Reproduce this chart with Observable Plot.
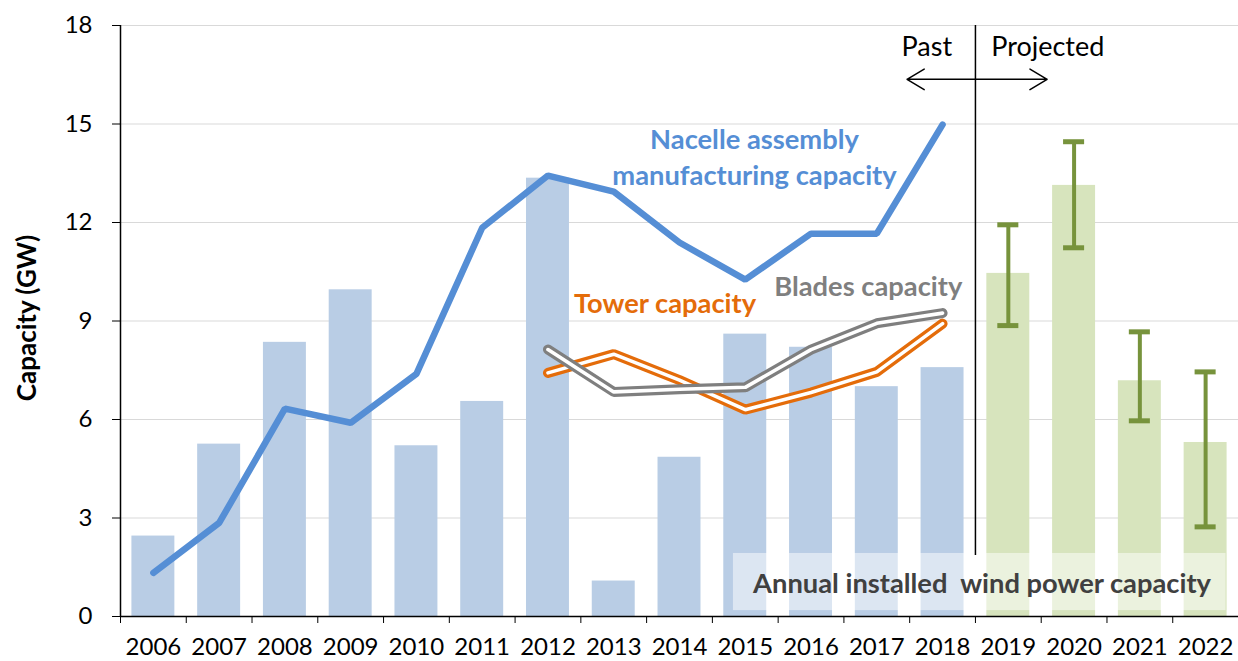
<!DOCTYPE html>
<html>
<head>
<meta charset="utf-8">
<script src="https://cdn.jsdelivr.net/npm/d3@7"></script>
<script src="https://cdn.jsdelivr.net/npm/@observablehq/plot@0.6"></script>
<style>
  html, body { margin: 0; padding: 0; background: #fff; }
  #chart svg { font-family: Lato, "Open Sans", sans-serif; }
</style>
</head>
<body>
<div id="chart"></div>
<script>
// ---- Data ----
const pastYears = [2006, 2007, 2008, 2009, 2010, 2011, 2012, 2013, 2014, 2015, 2016, 2017, 2018];
const installedPast = [2.45, 5.25, 8.35, 9.95, 5.2, 6.55, 13.35, 1.08, 4.85, 8.6, 8.2, 7.0, 7.58];
const projectedYears = [2019, 2020, 2021, 2022];
const installedProjected = [10.45, 13.13, 7.18, 5.3];
const projectedLow = [8.86, 11.23, 5.96, 2.73];
const projectedHigh = [11.93, 14.46, 8.67, 7.45];
const nacelleCapacity = [1.33, 2.85, 6.33, 5.9, 7.39, 11.84, 13.43, 12.94, 11.39, 10.26, 11.66, 11.66, 14.98];
const componentYears = [2012, 2013, 2014, 2015, 2016, 2017, 2018];
const towerCapacity = [7.42, 7.99, 7.2, 6.3, 6.82, 7.45, 8.92];
const bladesCapacity = [8.13, 6.84, 6.92, 6.98, 8.13, 8.93, 9.24];
const allYears = [...pastYears, ...projectedYears];
const yTicks = [0, 3, 6, 9, 12, 15, 18];

// annotation texts and their anchor points in data units
const seriesLabels = [
  {text: "Nacelle assembly", x: 2015.14, y: 14.5, color: "#558ED5"},
  {text: "manufacturing capacity", x: 2015.14, y: 13.4, color: "#558ED5"},
  {text: "Tower capacity", x: 2013.78, y: 9.5, color: "#E46C0A"},
  {text: "Blades capacity", x: 2016.87, y: 10.03, color: "#7F7F7F"}
];
const periodLabels = [
  {text: "Past", x: 2017.76, y: 17.33},
  {text: "Projected", x: 2019.6, y: 17.33}
];
const divider = {x: 2018.5, y1: 1.86, y2: 18};
const arrows = [
  {x1: 2018.5, x2: 2017.46, y: 16.36},
  {x1: 2018.5, x2: 2019.59, y: 16.36}
];
const boxNote = {text: "Annual installed  wind power capacity", x1: 2014.82, x2: 2022.31, y1: 0.18, y2: 1.92, tx: 2018.6, ty: 0.97};
const yTitle = "Capacity (GW)";

// ---- Tables built from arrays ----
const pastBars = pastYears.map((year, i) => ({year, value: installedPast[i]}));
const projBars = projectedYears.map((year, i) => ({year, value: installedProjected[i], lo: projectedLow[i], hi: projectedHigh[i]}));
const nacelle = pastYears.map((year, i) => ({year, value: nacelleCapacity[i]}));
const tower = componentYears.map((year, i) => ({year, value: towerCapacity[i]}));
const blades = componentYears.map((year, i) => ({year, value: bladesCapacity[i]}));
const boundaries = [allYears[0] - 0.5, ...allYears.map(y => y + 0.5)];

const BAR_INSET = 11.4;   // px each side of a category
const CAP = 0.16;         // error-bar cap half width in years
const FONT = 24;
const LABEL_FONT = 27.3;

const chart = Plot.plot({
  width: 1238,
  height: 661,
  marginLeft: 120,
  marginRight: 0,
  marginTop: 25,
  marginBottom: 45,
  style: {fontFamily: "Lato, 'Open Sans', sans-serif", fontSize: FONT + "px", color: "#000"},
  x: {type: "linear", domain: [allYears[0] - 0.5, allYears[allYears.length - 1] + 0.5]},
  y: {domain: [0, 18]},
  marks: [
    Plot.gridY(yTicks, {stroke: "#D9D9D9", strokeOpacity: 1, strokeWidth: 1.2}),
    Plot.rectY(pastBars, {x1: d => d.year - 0.5, x2: d => d.year + 0.5, y: "value", fill: "#B9CDE5", insetLeft: BAR_INSET, insetRight: BAR_INSET}),
    Plot.rectY(projBars, {x1: d => d.year - 0.5, x2: d => d.year + 0.5, y: "value", fill: "#D7E4BD", insetLeft: BAR_INSET, insetRight: BAR_INSET}),
    Plot.rect([boxNote], {x1: "x1", x2: "x2", y1: "y1", y2: "y2", fill: "#fff", fillOpacity: 0.5}),
    Plot.text([boxNote], {x: "tx", y: "ty", text: "text", fill: "#404040", fontWeight: "bold", fontSize: LABEL_FONT}),
    // error bars
    Plot.ruleX(projBars, {x: "year", y1: "lo", y2: "hi", stroke: "#77933C", strokeWidth: 4}),
    Plot.ruleY(projBars, {y: "hi", x1: d => d.year - CAP, x2: d => d.year + CAP, stroke: "#77933C", strokeWidth: 5}),
    Plot.ruleY(projBars, {y: "lo", x1: d => d.year - CAP, x2: d => d.year + CAP, stroke: "#77933C", strokeWidth: 5}),
    // nacelle line
    Plot.line(nacelle, {x: "year", y: "value", stroke: "#558ED5", strokeWidth: 6.5, strokeLinecap: "round", strokeLinejoin: "miter"}),
    // tower double line
    Plot.line(tower, {x: "year", y: "value", stroke: "#E46C0A", strokeWidth: 10, strokeLinecap: "round", strokeLinejoin: "miter"}),
    Plot.line(tower, {x: "year", y: "value", stroke: "#fff", strokeWidth: 3.6, strokeLinecap: "round", strokeLinejoin: "miter"}),
    // blades double line
    Plot.line(blades, {x: "year", y: "value", stroke: "#7F7F7F", strokeWidth: 10, strokeLinecap: "round", strokeLinejoin: "miter"}),
    Plot.line(blades, {x: "year", y: "value", stroke: "#fff", strokeWidth: 3.6, strokeLinecap: "round", strokeLinejoin: "miter"}),
    // labels
    Plot.text(seriesLabels, {x: "x", y: "y", text: "text", fill: "color", fontWeight: "bold", fontSize: LABEL_FONT}),
    Plot.text(periodLabels, {x: "x", y: "y", text: "text", fill: "#000", fontSize: 27}),
    Plot.ruleX([divider], {x: "x", y1: "y1", y2: "y2", stroke: "#000", strokeWidth: 1.5}),
    Plot.arrow(arrows, {x1: "x1", x2: "x2", y1: "y", y2: "y", stroke: "#000", strokeWidth: 1.5, headLength: 20, headAngle: 62}),
    // axes
    Plot.axisY({ticks: yTicks, tickSize: 8, tickPadding: 20, label: null, fontSize: FONT, tickFormat: d => String(d)}),
    Plot.axisX({ticks: boundaries, tickSize: 7, tickFormat: () => "", label: null}),
    Plot.axisX({ticks: allYears, tickSize: 0, tickPadding: 21, label: null, fontSize: FONT, tickFormat: d => String(d)}),
    Plot.ruleX([allYears[0] - 0.5], {stroke: "#000", strokeWidth: 1.5}),
    Plot.ruleY([0], {stroke: "#000", strokeWidth: 1.5}),
    Plot.text([yTitle], {frameAnchor: "left", textAnchor: "middle", dx: -93, dy: -3, rotate: -90, fontWeight: "bold", fontSize: 26, fill: "#000"})
  ]
});
document.getElementById("chart").appendChild(chart);
</script>
</body>
</html>
